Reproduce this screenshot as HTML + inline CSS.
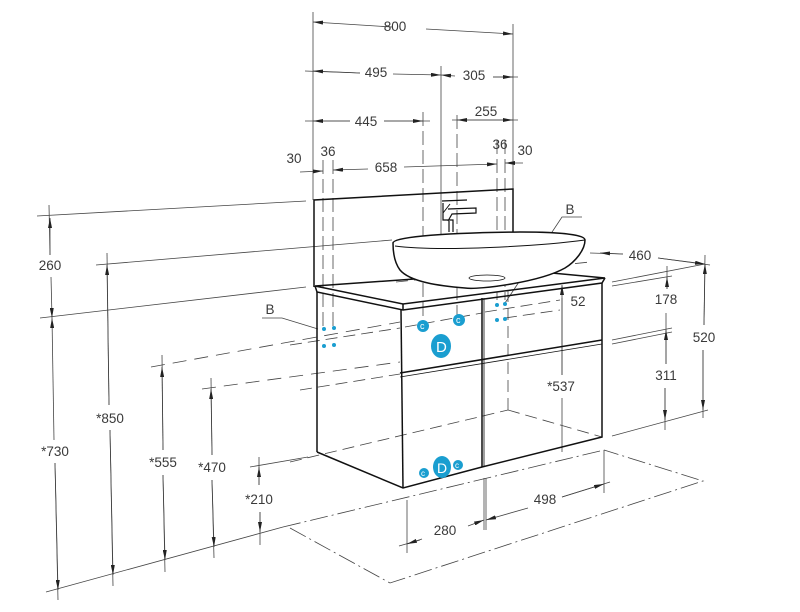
<!DOCTYPE html>
<html><head><meta charset="utf-8"><style>
html,body{margin:0;padding:0;background:#fff;}
svg{display:block}
text{font-family:"Liberation Sans","DejaVu Sans",sans-serif;font-size:13.5px;fill:#3a3a3a;}
</style></head><body>
<svg width="800" height="612" viewBox="0 0 800 612" xmlns="http://www.w3.org/2000/svg">
<defs>
<marker id="a" viewBox="0 0 10 4" refX="10" refY="2" markerWidth="10" markerHeight="4" orient="auto-start-reverse" markerUnits="userSpaceOnUse"><path d="M0,0 L10,2 L0,4z" fill="#222"/></marker>
</defs>
<g stroke="#444" stroke-width="0.8" fill="none">
<line x1="313" y1="12" x2="313" y2="200"/>
<line x1="513" y1="24" x2="513" y2="190"/>
<line x1="441" y1="66" x2="441" y2="240"/>
<line x1="423" y1="112" x2="423" y2="330" stroke-dasharray="14,5"/>
<line x1="457" y1="115" x2="457" y2="320" stroke-dasharray="14,5"/>
<line x1="323" y1="160" x2="323" y2="330" stroke-dasharray="14,5"/>
<line x1="333" y1="160" x2="333" y2="330" stroke-dasharray="14,5"/>
<line x1="497" y1="140" x2="497" y2="300" stroke-dasharray="14,5"/>
<line x1="505" y1="140" x2="505" y2="300" stroke-dasharray="14,5"/>
<line x1="313" y1="22" x2="392" y2="27" marker-start="url(#a)"/>
<line x1="426" y1="29" x2="513" y2="34" marker-end="url(#a)"/>
<line x1="305" y1="71" x2="360" y2="73"/><line x1="313" y1="71" x2="360" y2="73" marker-start="url(#a)"/>
<line x1="393" y1="74" x2="441" y2="75" marker-end="url(#a)"/>
<line x1="441" y1="75" x2="455" y2="76" marker-start="url(#a)"/>
<line x1="493" y1="77" x2="518" y2="77"/><line x1="493" y1="77" x2="513" y2="77" marker-end="url(#a)"/>
<line x1="305" y1="121" x2="350" y2="121"/><line x1="313" y1="121" x2="350" y2="121" marker-start="url(#a)"/>
<line x1="384" y1="121" x2="430" y2="121"/><line x1="384" y1="121" x2="423" y2="121" marker-end="url(#a)"/>
<line x1="452" y1="120" x2="518" y2="120"/><line x1="457" y1="120" x2="513" y2="120" marker-start="url(#a)" marker-end="url(#a)"/>
<line x1="300" y1="172" x2="323" y2="171" marker-end="url(#a)"/>
<line x1="333" y1="170" x2="368" y2="169" marker-start="url(#a)"/>
<line x1="404" y1="167" x2="497" y2="164" marker-end="url(#a)"/>
<line x1="505" y1="163" x2="523" y2="163" marker-start="url(#a)"/>
<line x1="37" y1="216" x2="306" y2="201"/>
<line x1="40" y1="318" x2="306" y2="287"/>
<line x1="96" y1="265" x2="392" y2="240"/>
<line x1="151" y1="367" x2="400" y2="322" stroke-dasharray="14,8"/>
<line x1="202" y1="389" x2="400" y2="362" stroke-dasharray="14,8"/>
<line x1="250" y1="467" x2="308" y2="457"/>
<line x1="46" y1="592" x2="283" y2="527"/>
<line x1="49" y1="205" x2="50" y2="255"/><line x1="50" y1="218" x2="50" y2="255" marker-start="url(#a)"/>
<line x1="51" y1="277" x2="52" y2="318" marker-end="url(#a)"/>
<line x1="52" y1="318" x2="54" y2="440" marker-start="url(#a)"/>
<line x1="55" y1="463" x2="58" y2="600"/><line x1="55" y1="463" x2="58" y2="590" marker-end="url(#a)"/>
<line x1="107" y1="253" x2="109" y2="405"/><line x1="107" y1="265" x2="109" y2="405" marker-start="url(#a)"/>
<line x1="110" y1="430" x2="113" y2="586"/><line x1="110" y1="430" x2="113" y2="575" marker-end="url(#a)"/>
<line x1="162" y1="355" x2="163" y2="450"/><line x1="162" y1="367" x2="163" y2="450" marker-start="url(#a)"/>
<line x1="163" y1="475" x2="165" y2="572"/><line x1="163" y1="475" x2="165" y2="560" marker-end="url(#a)"/>
<line x1="211" y1="378" x2="212" y2="455"/><line x1="211" y1="389" x2="212" y2="455" marker-start="url(#a)"/>
<line x1="212" y1="480" x2="214" y2="558"/><line x1="212" y1="480" x2="214" y2="547" marker-end="url(#a)"/>
<line x1="259" y1="457" x2="259" y2="485"/><line x1="259" y1="467" x2="259" y2="485" marker-start="url(#a)"/>
<line x1="260" y1="512" x2="260" y2="545"/><line x1="260" y1="512" x2="260" y2="532" marker-end="url(#a)"/>
<g stroke-dasharray="18,4,2,4">
<polyline points="290,528 390,583 703,481 604,450"/>
<line x1="283" y1="527" x2="604" y2="450"/>
</g>
<line x1="407" y1="500" x2="407" y2="553"/>
<line x1="484" y1="478" x2="484" y2="530"/><line x1="486" y1="478" x2="486" y2="530"/>
<line x1="604" y1="450" x2="604" y2="493"/>
<line x1="399" y1="546" x2="420" y2="540"/><line x1="407" y1="544" x2="422" y2="539" marker-start="url(#a)"/>
<line x1="468" y1="526" x2="484" y2="520" marker-end="url(#a)"/>
<line x1="486" y1="520" x2="528" y2="508" marker-start="url(#a)"/>
<line x1="562" y1="497" x2="610" y2="482"/><line x1="562" y1="497" x2="604" y2="484" marker-end="url(#a)"/>
<line x1="612" y1="282" x2="705" y2="264"/>
<line x1="612" y1="286" x2="672" y2="276"/>
<line x1="612" y1="340" x2="672" y2="328"/>
<line x1="612" y1="344" x2="672" y2="332"/>
<line x1="612" y1="436" x2="708" y2="410"/>
<line x1="590" y1="253" x2="623" y2="254"/><line x1="600" y1="253" x2="623" y2="254" marker-start="url(#a)"/>
<line x1="658" y1="258" x2="710" y2="265"/><line x1="658" y1="258" x2="705" y2="264" marker-end="url(#a)"/>
<line x1="705" y1="255" x2="704" y2="325"/><line x1="705" y1="264" x2="704" y2="325" marker-start="url(#a)"/>
<line x1="703" y1="350" x2="703" y2="418"/><line x1="703" y1="350" x2="703" y2="410" marker-end="url(#a)"/>
<line x1="667" y1="266" x2="667" y2="289"/><line x1="667" y1="277" x2="667" y2="289" marker-start="url(#a)"/>
<line x1="666" y1="313" x2="666" y2="364"/><line x1="666" y1="330" x2="666" y2="364" marker-start="url(#a)"/>
<line x1="665" y1="388" x2="665" y2="430"/><line x1="665" y1="388" x2="665" y2="420" marker-end="url(#a)"/>
<line x1="562" y1="298" x2="562" y2="375"/><line x1="562" y1="285" x2="562" y2="375" marker-start="url(#a)"/>
<line x1="562" y1="398" x2="562" y2="452"/>
<g stroke-dasharray="12,6">
<line x1="508" y1="290" x2="508" y2="410"/>
<line x1="508" y1="410" x2="602" y2="437"/>
<line x1="290" y1="462" x2="508" y2="410"/>
<line x1="300" y1="390" x2="400" y2="374"/>
<line x1="290" y1="345" x2="400" y2="328"/>
<line x1="405" y1="327" x2="482" y2="313"/>
<line x1="485" y1="312" x2="560" y2="300"/>
<line x1="505" y1="318" x2="560" y2="310"/>
<line x1="396" y1="282" x2="590" y2="262"/>
</g>
<polyline points="262,318 282,318 318,329"/>
<polyline points="582,217 562,217 505,303"/>
</g>
<g stroke="#111" stroke-width="1.5" fill="none">
<polyline points="314,287 314,200 513,189 513,274"/>
<polygon points="315,286 403,304 605,278 520,270 513,272"/>
<polyline points="315,286 317,292 403,310 602,283 605,278"/>
<line x1="403" y1="304" x2="403" y2="310"/>
<line x1="317" y1="292" x2="317" y2="452"/>
<line x1="401" y1="310" x2="403" y2="488"/>
<polyline points="317,452 403,488 482,467 602,437 602,283"/>
<line x1="482" y1="298" x2="482" y2="467"/>
<line x1="484" y1="298" x2="484" y2="467" stroke-width="0.8"/>
<line x1="400" y1="373" x2="602" y2="340"/>
<line x1="400" y1="377" x2="602" y2="344" stroke-width="0.8"/>
<path d="M393,243 C393,238 430,233 520,232 C570,232 585,236 585,240 C585,250 575,262 565,268 C540,282 480,290 465,288 C440,286 410,282 400,270 C394,262 393,252 393,243Z" fill="#fff"/>
<path d="M395,246 C440,252 540,246 585,240" stroke-width="1"/>
<ellipse cx="487" cy="278" rx="18" ry="3" stroke-width="0.8"/>
<path d="M442,201 L467,200 M443,203 L443,220 L453,220 L453,232 M449,221 L449,232 M448,209 L476,208 L476,213 L452,214 L448,221" stroke-width="1.2"/>
<line x1="443" y1="213" x2="450" y2="204" stroke-width="1"/>
</g>
<g fill="#1a9ed0">
<circle cx="324" cy="329" r="2"/><circle cx="334" cy="328" r="2"/><circle cx="324" cy="346" r="2"/><circle cx="334" cy="345" r="2"/>
<circle cx="497" cy="305" r="2"/><circle cx="505" cy="304" r="2"/><circle cx="497" cy="320" r="2"/><circle cx="505" cy="319" r="2"/>
<circle cx="423" cy="326" r="6"/><circle cx="459" cy="320" r="6"/>
<ellipse cx="441" cy="346" rx="10" ry="12"/>
<circle cx="424" cy="473" r="5"/><circle cx="458" cy="465" r="5"/>
<ellipse cx="442" cy="467" rx="9" ry="11"/>
</g>
<g><text x="420" y="329" style="fill:#fff;font-size:9px">c</text><text x="456" y="323" style="fill:#fff;font-size:9px">c</text>
<text x="436" y="352" style="fill:#fff;font-size:15px">D</text><text x="437" y="473" style="fill:#fff;font-size:14px">D</text>
<text x="421" y="476" style="fill:#fff;font-size:8px">c</text><text x="455" y="468" style="fill:#fff;font-size:8px">c</text></g>
<text x="395" y="31" text-anchor="middle">800</text>
<text x="376" y="77" text-anchor="middle">495</text>
<text x="474" y="80" text-anchor="middle">305</text>
<text x="366" y="126" text-anchor="middle">445</text>
<text x="486" y="116" text-anchor="middle">255</text>
<text x="386" y="172" text-anchor="middle">658</text>
<text x="294" y="163" text-anchor="middle">30</text>
<text x="328" y="156" text-anchor="middle">36</text>
<text x="500" y="149" text-anchor="middle">36</text>
<text x="525" y="155" text-anchor="middle">30</text>
<text x="50" y="270" text-anchor="middle">260</text>
<text x="55" y="456" text-anchor="middle">*730</text>
<text x="110" y="423" text-anchor="middle">*850</text>
<text x="163" y="467" text-anchor="middle">*555</text>
<text x="212" y="472" text-anchor="middle">*470</text>
<text x="259" y="504" text-anchor="middle">*210</text>
<text x="270" y="314" text-anchor="middle">B</text>
<text x="570" y="214" text-anchor="middle">B</text>
<text x="640" y="260" text-anchor="middle">460</text>
<text x="704" y="342" text-anchor="middle">520</text>
<text x="666" y="304" text-anchor="middle">178</text>
<text x="666" y="380" text-anchor="middle">311</text>
<text x="578" y="306" text-anchor="middle">52</text>
<text x="561" y="391" text-anchor="middle">*537</text>
<text x="445" y="535" text-anchor="middle">280</text>
<text x="545" y="504" text-anchor="middle">498</text>
</svg>
</body></html>
